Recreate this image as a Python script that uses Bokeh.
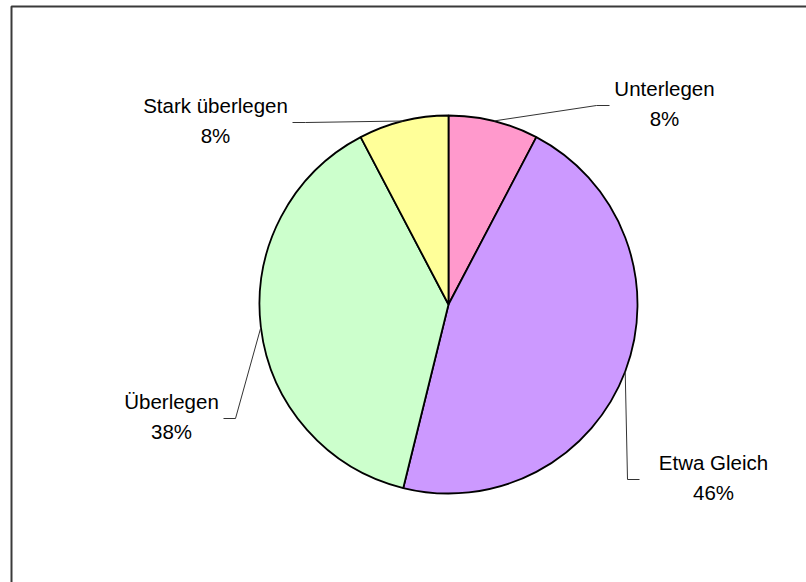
import math
from bokeh.plotting import figure
from bokeh.models import Range1d, ColumnDataSource
from bokeh.core.properties import value
from bokeh.embed import file_html
from bokeh.resources import INLINE

# ---- data ----
categories = ["Unterlegen", "Etwa Gleich", "Überlegen", "Stark überlegen"]
shares = [7.7, 46.2, 38.5, 7.7]
colors = ["#FF99CC", "#CC99FF", "#CCFFCC", "#FFFF99"]

# ---- layout (pixel coordinates, y measured from top) ----
W, H = 806, 582
CX, CY, R = 448, 304, 189
label_pos = [(664, 88), (713, 462), (171, 401), (215, 105)]
leader_knee = [(596, 105), (627, 479), (235, 418), (305, 122)]
leader_end = [(609, 105), (639, 479), (223, 418), (292, 122)]
FONT = "Liberation Sans"


def Y(py):
    return H - py


p = figure(width=W, height=H, output_backend="svg", toolbar_location=None,
           x_range=Range1d(0, W), y_range=Range1d(0, H), min_border=0,
           outline_line_color=None, background_fill_color="white",
           border_fill_color="white")
p.axis.visible = False
p.grid.visible = False

# frame (left/top visible, right/bottom beyond page edge)
p.line(x=[11, 11, W + 20], y=[Y(H + 20), Y(6), Y(6)], line_color="#3a3a3a", line_width=2)

total = sum(shares)
starts, ends, mids = [], [], []
acc = 0.0
for s in shares:
    a0 = acc / total * 2 * math.pi
    acc += s
    a1 = acc / total * 2 * math.pi
    starts.append(math.pi / 2 - a0)
    ends.append(math.pi / 2 - a1)
    mids.append((a0 + a1) / 2)

src = ColumnDataSource(dict(start=starts, end=ends, color=colors, cat=categories))
p.wedge(x=CX, y=Y(CY), radius=R, radius_units="screen", start_angle="start",
        end_angle="end", direction="clock", fill_color="color",
        line_color="black", line_width=1.8, source=src)

# leader lines
for m, knee, end in zip(mids, leader_knee, leader_end):
    ex = CX + R * math.sin(m)
    ey = CY - R * math.cos(m)
    p.line(x=[ex, knee[0], end[0]], y=[Y(ey), Y(knee[1]), Y(end[1])],
           line_color="#333333", line_width=1)

# labels
pcts = [f"{round(s / total * 100):d}%" for s in shares]
lx = [lp[0] for lp in label_pos]
ly1 = [Y(lp[1]) for lp in label_pos]
ly2 = [Y(lp[1] + 30) for lp in label_pos]
p.text(x=lx, y=ly1, text=categories, text_align="center", text_baseline="middle",
       text_font=value(FONT), text_font_size="20.5px", text_color="black")
p.text(x=lx, y=ly2, text=pcts, text_align="center", text_baseline="middle",
       text_font=value(FONT), text_font_size="20.5px", text_color="black")

open("out.html", "w").write(file_html(p, INLINE))
